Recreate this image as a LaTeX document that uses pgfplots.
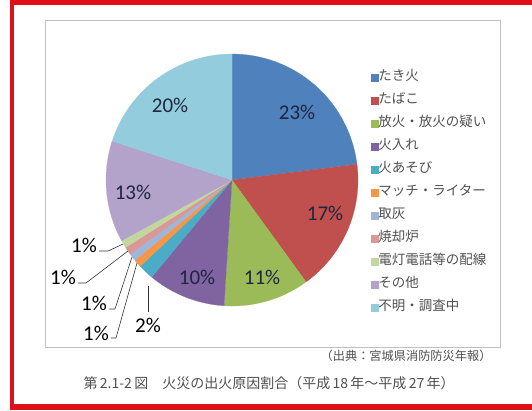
\documentclass[border=0pt]{standalone}
\usepackage{pgfplots}
\pgfplotsset{compat=1.18}
\usepackage{fontspec}
\setmainfont{Carlito}
\newfontfamily\jp{Noto Sans CJK JP}
\definecolor{c1}{HTML}{4F81BD}
\definecolor{c2}{HTML}{C0504D}
\definecolor{c3}{HTML}{9BBB59}
\definecolor{c4}{HTML}{8064A2}
\definecolor{c5}{HTML}{4BACC6}
\definecolor{c6}{HTML}{F79646}
\definecolor{c7}{HTML}{A0B6D8}
\definecolor{c8}{HTML}{D99795}
\definecolor{c9}{HTML}{C4D6A0}
\definecolor{c10}{HTML}{B3A2C9}
\definecolor{c11}{HTML}{93CDDD}
\definecolor{lab}{HTML}{1E2640}
\definecolor{frame}{HTML}{E0101A}
\definecolor{boxgray}{HTML}{C0C0C0}
\definecolor{legtext}{HTML}{505050}
\def\cum{0}
\def\cx{232}
\def\cy{180}
\def\rr{126}
\newcommand\slice[3]{%
  \pgfmathsetmacro\sa{90-3.6*\cum}%
  \pgfmathsetmacro\cumnew{\cum+#1}%
  \pgfmathsetmacro\sb{90-3.6*\cumnew}%
  \global\let\cum\cumnew
  \edef\tmp{\noexpand\addplot[fill=#2, draw=#2, line width=0.2pt, domain=\sb:\sa, samples=80, variable=\noexpand\t] ({\cx+\rr*cos(\noexpand\t)},{\cy-\rr*sin(\noexpand\t)}) -- (axis cs:\cx,\cy) -- cycle;}%
  \tmp
  \addlegendentry{#3}%
}
\begin{document}
\begin{tikzpicture}
\begin{axis}[
  scale only axis, width=532pt, height=410pt,
  xmin=0, xmax=532, ymin=0, ymax=410, y dir=reverse,
  hide axis, clip=false,
  legend image code/.code={\fill[#1] (0pt,-3.5pt) rectangle (7pt,3.5pt);},
  legend cell align=left,
  legend style={at={(axis cs:371,71)}, anchor=north west, draw=none, fill=none,
    inner sep=0pt, row sep=10.5pt,
    font=\jp\fontsize{13.5}{13.5}\selectfont, text=legtext,
    nodes={inner sep=0pt, text height=9.5pt, text depth=3pt},
    /tikz/every even column/.append style={column sep=6pt}},
]
\path (axis cs:0,0) (axis cs:532,410);
\fill[frame] (axis cs:10,0) rectangle (axis cs:532,5);
\fill[frame] (axis cs:10,0) rectangle (axis cs:14,410);
\fill[frame] (axis cs:10,404) rectangle (axis cs:532,410);
\draw[boxgray, line width=0.9pt] (axis cs:45,20) rectangle (axis cs:500,347);

\slice{23}{c1}{たき火}
\slice{17}{c2}{たばこ}
\slice{11}{c3}{放火・放火の疑い}
\slice{10}{c4}{火入れ}
\slice{2}{c5}{火あそび}
\slice{1}{c6}{マッチ・ライター}
\slice{1}{c7}{取灰}
\slice{1}{c8}{焼却炉}
\slice{1}{c9}{電灯電話等の配線}
\slice{13}{c10}{その他}
\slice{20}{c11}{不明・調査中}

\begin{scope}[every node/.style={font=\fontsize{21}{21}\selectfont, text=lab}]
\node at (axis cs:297,112) {23\%};
\node at (axis cs:325,213) {17\%};
\node at (axis cs:262,277) {11\%};
\node at (axis cs:197,277) {10\%};
\node at (axis cs:133,192) {13\%};
\node at (axis cs:170,105) {20\%};
\end{scope}
\begin{scope}[every node/.style={font=\fontsize{21}{21}\selectfont, text=black}]
\node at (axis cs:84,245) {1\%};
\node at (axis cs:63,277) {1\%};
\node at (axis cs:94,303) {1\%};
\node at (axis cs:96,333) {1\%};
\node at (axis cs:148,325) {2\%};
\end{scope}
\draw[black!80, line width=0.6pt] (axis cs:99,251) -- (axis cs:108,251) -- (axis cs:123,244);
\draw[black!80, line width=0.6pt] (axis cs:78,283) -- (axis cs:86,283) -- (axis cs:128,251);
\draw[black!80, line width=0.6pt] (axis cs:109,309) -- (axis cs:115,309) -- (axis cs:132,257);
\draw[black!80, line width=0.6pt] (axis cs:111,338) -- (axis cs:116,338) -- (axis cs:137,263);
\draw[black!80, line width=0.6pt] (axis cs:148,312) -- (axis cs:148,286);

\node[anchor=east, font=\jp\fontsize{12.2}{12.2}\selectfont, text=legtext] at (axis cs:495,356) {（出典：宮城県消防防災年報）};
\node[anchor=west, font=\jp\fontsize{14}{14}\selectfont, text=legtext] at (axis cs:80,383) {第\,2.1-2\,図　火災の出火原因割合（平成\,18\,年～平成\,27\,年）};
\end{axis}
\end{tikzpicture}
\end{document}
